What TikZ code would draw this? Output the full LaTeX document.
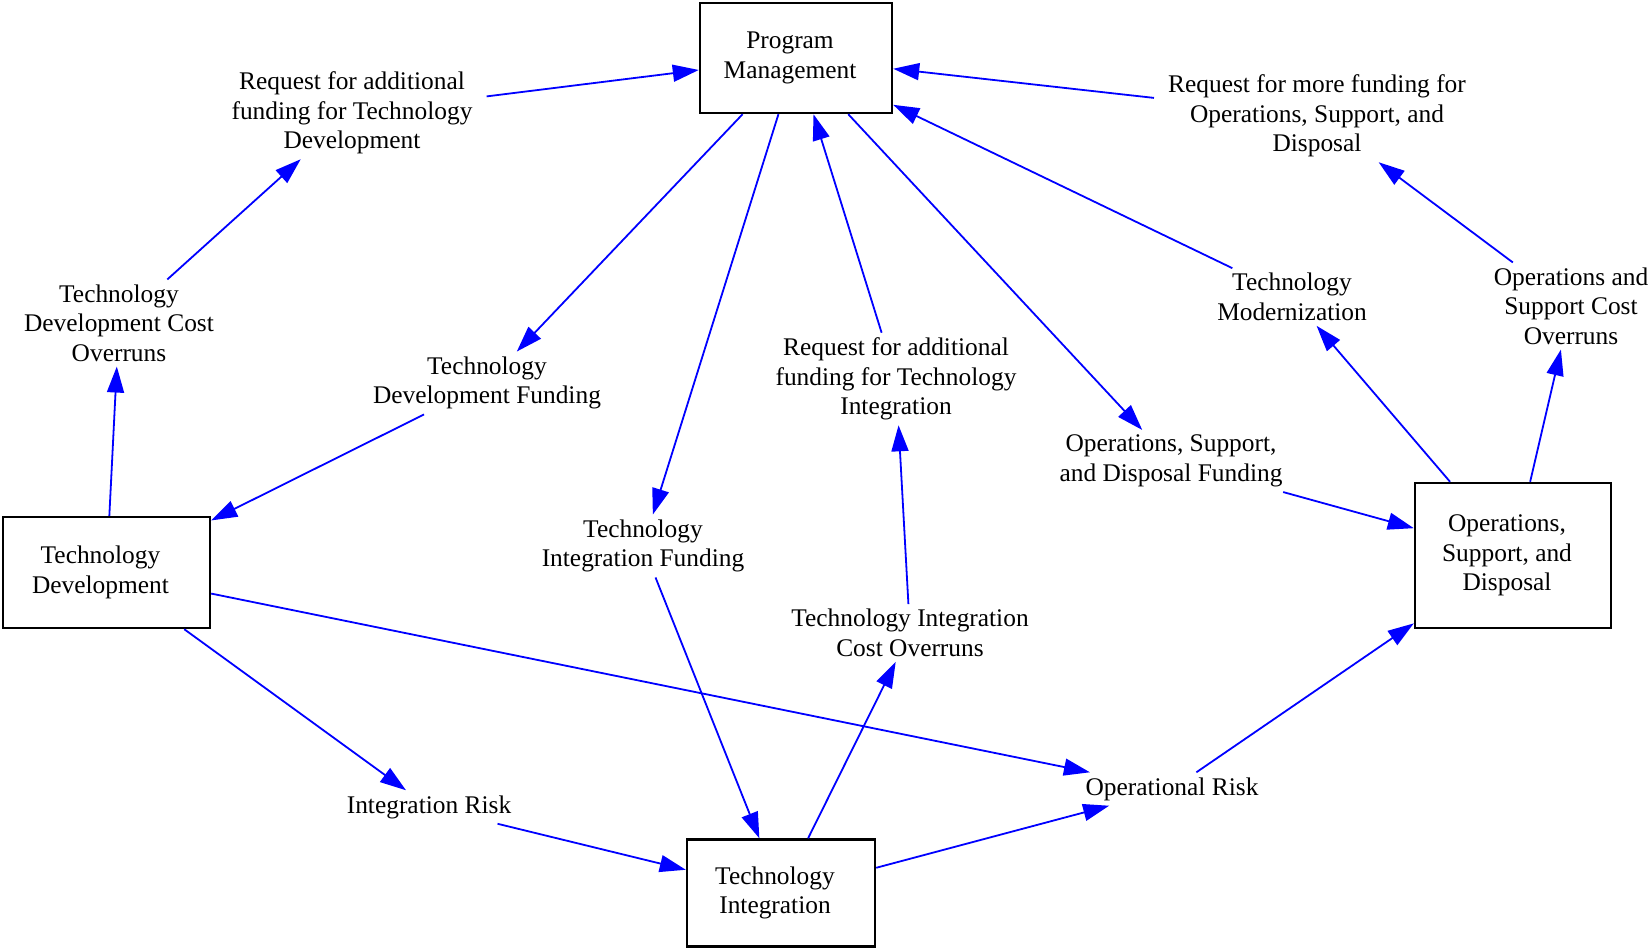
\documentclass[tikz,border=0pt]{standalone}
\usepackage{fontspec}
\setmainfont{Liberation Serif}
\usetikzlibrary{arrows.meta}

\definecolor{edgeblue}{RGB}{0,0,255}

% invisible trailing pad: sets box text a little left of centre
\newcommand{\padr}{\rule{12pt}{0pt}}

\tikzset{
  txt/.style={font=\fontsize{25.4}{29.4}\selectfont, align=center, text=black},
  box/.style={txt, draw=black, line width=2.4pt, rectangle, inner sep=0pt},
  lbl/.style={txt, rectangle, inner xsep=14pt, inner ysep=5pt},
  flow/.style={draw=edgeblue, line width=1.8pt,
    -{Triangle[length=26pt,width=17pt]}},
}

\begin{document}
\begin{tikzpicture}[x=1pt,y=-1pt]
  \useasboundingbox (0,0) rectangle (1648,948);

  % main activity boxes
  \node[box, minimum width=192, minimum height=110] (pm)  at (796,58)
    {Program\padr\\Management\padr};
  \node[box, minimum width=207, minimum height=111] (td)  at (106.5,572.5)
    {Technology\padr\\Development\padr};
  \node[box, minimum width=188, minimum height=107] (ti)  at (781,893)
    {\rule{0pt}{6pt}Technology\padr\\Integration\padr};
  \node[box, minimum width=196, minimum height=145] (osd) at (1513,555.5)
    {Operations,\padr\\Support, and\padr\\Disposal\padr};

  % flow labels
  \node[lbl] (reqtd)  at (352,113)  {Request for additional\\funding for Technology\\Development};
  \node[lbl] (tdco)   at (119,323)  {Technology\\Development Cost\\Overruns};
  \node[lbl] (tdf)    at (487,383)  {Technology\\Development Funding};
  \node[lbl] (tif)    at (643,546)  {Technology\\Integration Funding};
  \node[lbl] (reqti)  at (896,379)  {Request for additional\\funding for Technology\\Integration};
  \node[lbl] (tico)   at (910,633)  {Technology Integration\\Cost Overruns};
  \node[lbl] (osdf)   at (1171,461) {Operations, Support,\\and Disposal Funding};
  \node[lbl] (tm)     at (1292,297) {Technology\\Modernization};
  \node[lbl] (reqosd) at (1317,116) {Request for more funding for\\Operations, Support, and\\Disposal};
  \node[lbl] (osco)   at (1571,306) {Operations and\\Support Cost\\Overruns};
  \node[lbl] (ir)     at (429,807)  {Integration Risk};
  \node[lbl] (or)     at (1172,789) {Operational Risk};

  % connectors
  \draw[flow] (reqtd) -- (pm);
  \draw[flow] (tdco) -- (reqtd);
  \draw[flow] (td) -- (tdco);
  \draw[flow] (pm) -- (tdf);
  \draw[flow] (tdf) -- (td);
  \draw[flow] (pm) -- (tif);
  \draw[flow] (tif) -- (ti);
  \draw[flow] (reqti) -- (pm);
  \draw[flow] (tico) -- (reqti);
  \draw[flow] (ti) -- (tico);
  \draw[flow] (pm) -- (osdf);
  \draw[flow] (osdf) -- (osd);
  \draw[flow] (tm) -- (pm);
  \draw[flow] (osd) -- (tm);
  \draw[flow] (reqosd) -- (pm);
  \draw[flow] (osco) -- (reqosd);
  \draw[flow] (osd) -- (osco);
  \draw[flow] (td) -- (ir);
  \draw[flow] (ir) -- (ti);
  \draw[flow] (td) -- (or);
  \draw[flow] (ti) -- (or);
  \draw[flow] (or) -- (osd);
\end{tikzpicture}
\end{document}
